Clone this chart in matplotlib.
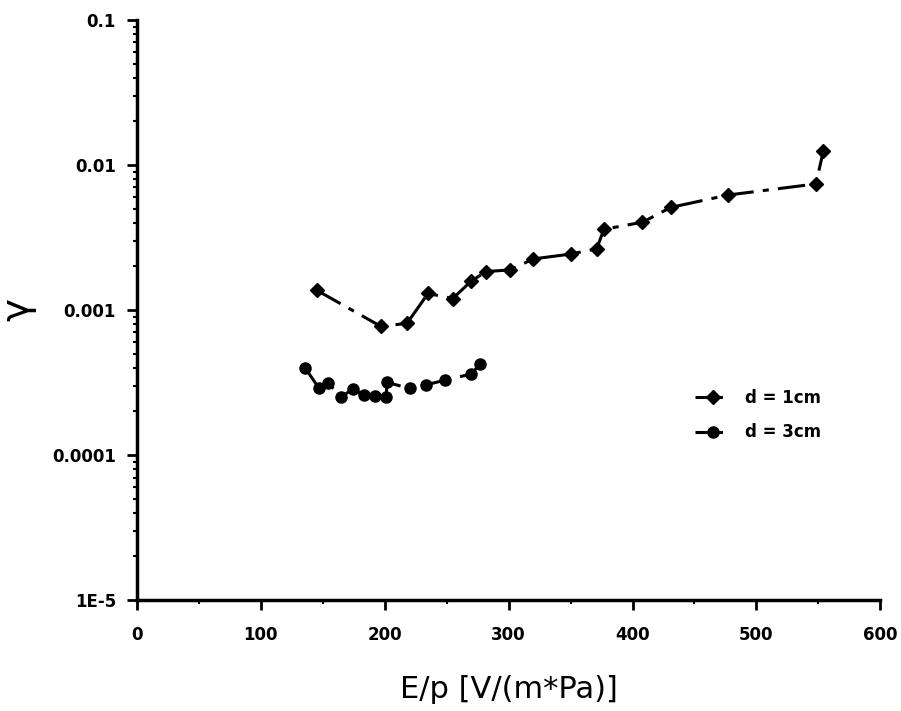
import numpy as np
import matplotlib
matplotlib.use("Agg")
import matplotlib.pyplot as plt
from matplotlib.ticker import FixedLocator, LogLocator, NullFormatter

# d = 1 cm series (diamonds)
ep_1cm = [145, 197, 218, 235, 255, 270, 282, 301, 320, 350, 371, 377, 408, 431, 477, 548, 554]
gamma_1cm = [0.00137, 0.00077, 0.00081, 0.0013, 0.0012, 0.00159, 0.00184, 0.00189, 0.00225,
             0.00243, 0.00264, 0.0036, 0.00403, 0.0051, 0.0062, 0.0074, 0.0124]

# d = 3 cm series (circles)
ep_3cm = [136, 147, 154, 165, 174, 183, 192, 201, 202, 220, 233, 249, 270, 277]
gamma_3cm = [0.000396, 0.000288, 0.000315, 0.000252, 0.000284, 0.00026, 0.000255, 0.00025,
             0.000317, 0.000288, 0.000304, 0.000329, 0.000362, 0.000425]

y_ticks = [1e-5, 1e-4, 1e-3, 1e-2, 1e-1]
y_tick_labels = ["1E-5", "0.0001", "0.001", "0.01", "0.1"]
x_ticks = [0, 100, 200, 300, 400, 500, 600]

fig = plt.figure(figsize=(9.01, 7.11), dpi=100)
ax = fig.add_axes([0.152, 0.156, 0.825, 0.816])

ax.plot(ep_1cm, gamma_1cm, color="black", lw=2.2, dashes=(9, 3, 2, 3),
        marker="D", ms=7, label="d = 1cm")
ax.plot(ep_3cm, gamma_3cm, color="black", lw=2.2, dashes=(9, 3, 2, 3),
        marker="o", ms=8, label="d = 3cm")

ax.set_yscale("log")
ax.set_xlim(0, 600)
ax.set_ylim(1e-5, 0.1)

ax.yaxis.set_major_locator(FixedLocator(y_ticks))
ax.set_yticklabels(y_tick_labels)
ax.yaxis.set_minor_locator(LogLocator(base=10, subs=np.arange(2, 10)))
ax.yaxis.set_minor_formatter(NullFormatter())
ax.set_xticks(x_ticks)
ax.set_xticks(np.arange(50, 600, 100), minor=True)

for s in ["top", "right"]:
    ax.spines[s].set_visible(False)
for s in ["left", "bottom"]:
    ax.spines[s].set_linewidth(2.5)

ax.tick_params(which="major", direction="out", length=7, width=2, labelsize=12)
ax.tick_params(axis="x", which="major", pad=12)
ax.tick_params(axis="y", which="major", pad=8)
ax.tick_params(which="minor", direction="out", length=3, width=1.5)
for lbl in ax.get_xticklabels() + ax.get_yticklabels():
    lbl.set_fontweight("bold")

ax.set_xlabel("E/p [V/(m*Pa)]", fontsize=22, labelpad=22)
ax.set_ylabel("γ", fontsize=28)
ax.yaxis.set_label_coords(-0.135, 0.5)

leg = ax.legend(loc="upper left", bbox_to_anchor=(0.73, 0.39), frameon=False,
                handlelength=2.2, prop={"weight": "bold", "size": 12},
                labelspacing=1.0)

fig.savefig("out.png", dpi=100)
